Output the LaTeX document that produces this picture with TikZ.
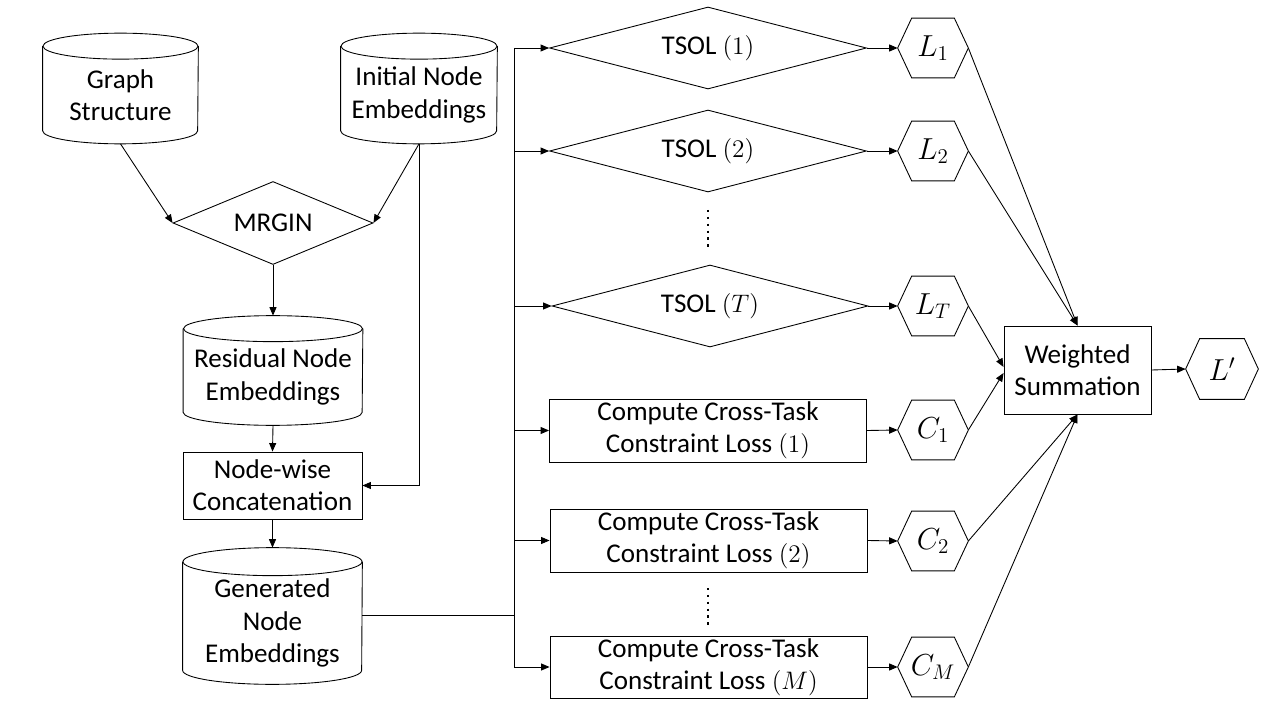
\documentclass[tikz,border=0pt]{standalone}
\usepackage{fontspec}
\setmainfont{Carlito}
\usetikzlibrary{shapes.geometric,arrows.meta,calc}
\newcommand\cylshape[3]{%
  \draw[ln] ([yshift=#3]#1.north west) -- (#1.south west)
    arc[start angle=180,end angle=360,x radius=#2,y radius=#3]
    -- ([yshift=#3]#1.north east);
  \draw[ln] ([yshift=#3]#1.north) ellipse[x radius=#2,y radius=#3];}
\newcommand\hexshape[1]{%
  \draw[ln] (#1.west) -- ([xshift=2.8mm]#1.north west) -- ([xshift=-2.8mm]#1.north east)
    -- (#1.east) -- ([xshift=-2.8mm]#1.south east) -- ([xshift=2.8mm]#1.south west) -- cycle;}
\begin{document}
\begin{tikzpicture}[x=0.2mm,y=-0.2mm,
  every node/.style={font=\fontsize{15.4}{18.3}\selectfont, align=center, inner sep=0pt},
  ln/.style={line width=0.5pt},
  arr/.style={line width=0.5pt, -{Triangle[length=1.7mm,width=1.4mm]}},
  cylbody/.style={rectangle},
  dia/.style={diamond, draw, line width=0.5pt},
  boxn/.style={rectangle, draw, line width=0.5pt},
  hexn/.style={rectangle, minimum width=14mm, minimum height=11.8mm, font=\fontsize{17}{20}\selectfont},
  dotline/.style={line width=1.3pt, dash pattern=on 1.3pt off 2.6pt}]
\useasboundingbox (0,0) rectangle (1280,720);

% left column
\node[cylbody, minimum width=31mm, minimum height=14.2mm] (gs) at (120.5,95) {Graph\\Structure};
\cylshape{gs}{15.5mm}{2.6mm}
\node[cylbody, minimum width=31.2mm, minimum height=14.2mm] (ine) at (419,95) {Initial Node\\Embeddings};
\cylshape{ine}{15.6mm}{2.6mm}
\node[dia, minimum width=40mm, minimum height=16.6mm, shape aspect=2.4] (mr) at (273,223) {MRGIN};
\node[cylbody, minimum width=35.8mm, minimum height=14mm] (res) at (273,377) {Residual Node\\Embeddings};
\cylshape{res}{17.9mm}{2.6mm}
\node[boxn, minimum width=35.8mm, minimum height=13.4mm] (nw) at (272.5,485.5) {Node-wise\\Concatenation};
\node[cylbody, minimum width=35.8mm, minimum height=18.8mm] (gen) at (272.5,623) {Generated\\Node\\Embeddings};
\cylshape{gen}{17.9mm}{2.8mm}

\coordinate (gsB) at ([yshift=-2.6mm]gs.south);
\coordinate (ineB) at ([yshift=-2.6mm]ine.south);
\coordinate (resT) at ([yshift=5.2mm]res.north);
\coordinate (resB) at ([yshift=-2.6mm]res.south);
\coordinate (genT) at ([yshift=5.6mm]gen.north);
\draw[arr] (gsB) -- (mr.west);
\draw[arr] (ineB) -- (mr.east);
\draw[arr] (mr.south) -- (resT);
\draw[arr] (resB) -- (nw.north);
\draw[arr] (nw.south) -- (genT);
\draw[arr] (ineB) |- (nw.east);

% middle column
\node[dia, minimum width=63.4mm, minimum height=16.4mm, shape aspect=3.87] (t1) at (708,48) {TSOL $(1)$};
\node[dia, minimum width=63.4mm, minimum height=16.4mm, shape aspect=3.87] (t2) at (708,151) {TSOL $(2)$};
\node[dia, minimum width=63.2mm, minimum height=16.4mm, shape aspect=3.87] (tT) at (710,306) {TSOL $(T)$};
\node[boxn, minimum width=63.4mm, minimum height=12.6mm] (k1) at (708,430.5) {Compute Cross-Task\\Constraint Loss $(1)$};
\node[boxn, minimum width=63.4mm, minimum height=12.6mm] (k2) at (708.5,540.5) {Compute Cross-Task\\Constraint Loss $(2)$};
\node[boxn, minimum width=63.4mm, minimum height=12.4mm] (kM) at (708.5,667) {Compute Cross-Task\\Constraint Loss $(M)$};
\draw[dotline] (708,210) -- (708,250);
\draw[dotline] (708,588) -- (708,628);

% bus
\coordinate (bj) at (514,615);
\coordinate (btop) at (514,48);
\coordinate (bbot) at (514,667);
\draw[ln] (gen.east |- bj) -- (bj);
\draw[ln] (btop) -- (bbot);
\draw[arr] (btop |- t1.west) -- (t1.west);
\draw[arr] (btop |- t2.west) -- (t2.west);
\draw[arr] (btop |- tT.west) -- (tT.west);
\draw[arr] (btop |- k1.west) -- (k1.west);
\draw[arr] (btop |- k2.west) -- (k2.west);
\draw[arr] (btop |- kM.west) -- (kM.west);

% hexagons
\node[hexn] (l1) at (933,48) {$L_1$}; \hexshape{l1}
\node[hexn] (l2) at (933,151) {$L_2$}; \hexshape{l2}
\node[hexn] (lT) at (933,306) {$L_T$}; \hexshape{lT}
\node[hexn] (c1) at (933,430) {$C_1$}; \hexshape{c1}
\node[hexn] (c2) at (933,541) {$C_2$}; \hexshape{c2}
\node[hexn] (cM) at (933,667) {$C_M$}; \hexshape{cM}

\draw[arr] (t1.east) -- (l1.west);
\draw[arr] (t2.east) -- (l2.west);
\draw[arr] (tT.east) -- (lT.west);
\draw[arr] (k1.east) -- (c1.west);
\draw[arr] (k2.east) -- (c2.west);
\draw[arr] (kM.east) -- (cM.west);

% weighted summation
\node[boxn, minimum width=29.4mm, minimum height=17.6mm] (ws) at (1077.5,370) {Weighted\\Summation};
\node[hexn, minimum width=14.4mm, minimum height=12mm] (lp) at (1222,369) {$L'$}; \hexshape{lp}

\draw[arr] (l1.east) -- (ws.north);
\draw[arr] (l2.east) -- (ws.north);
\draw[arr] (lT.east) -- ([yshift=0.6mm]ws.west);
\draw[arr] (c1.east) -- ([yshift=-0.6mm]ws.west);
\draw[arr] (c2.east) -- (ws.south);
\draw[arr] (cM.east) -- (ws.south);
\draw[arr] (ws.east) -- (lp.west);
\end{tikzpicture}
\end{document}
